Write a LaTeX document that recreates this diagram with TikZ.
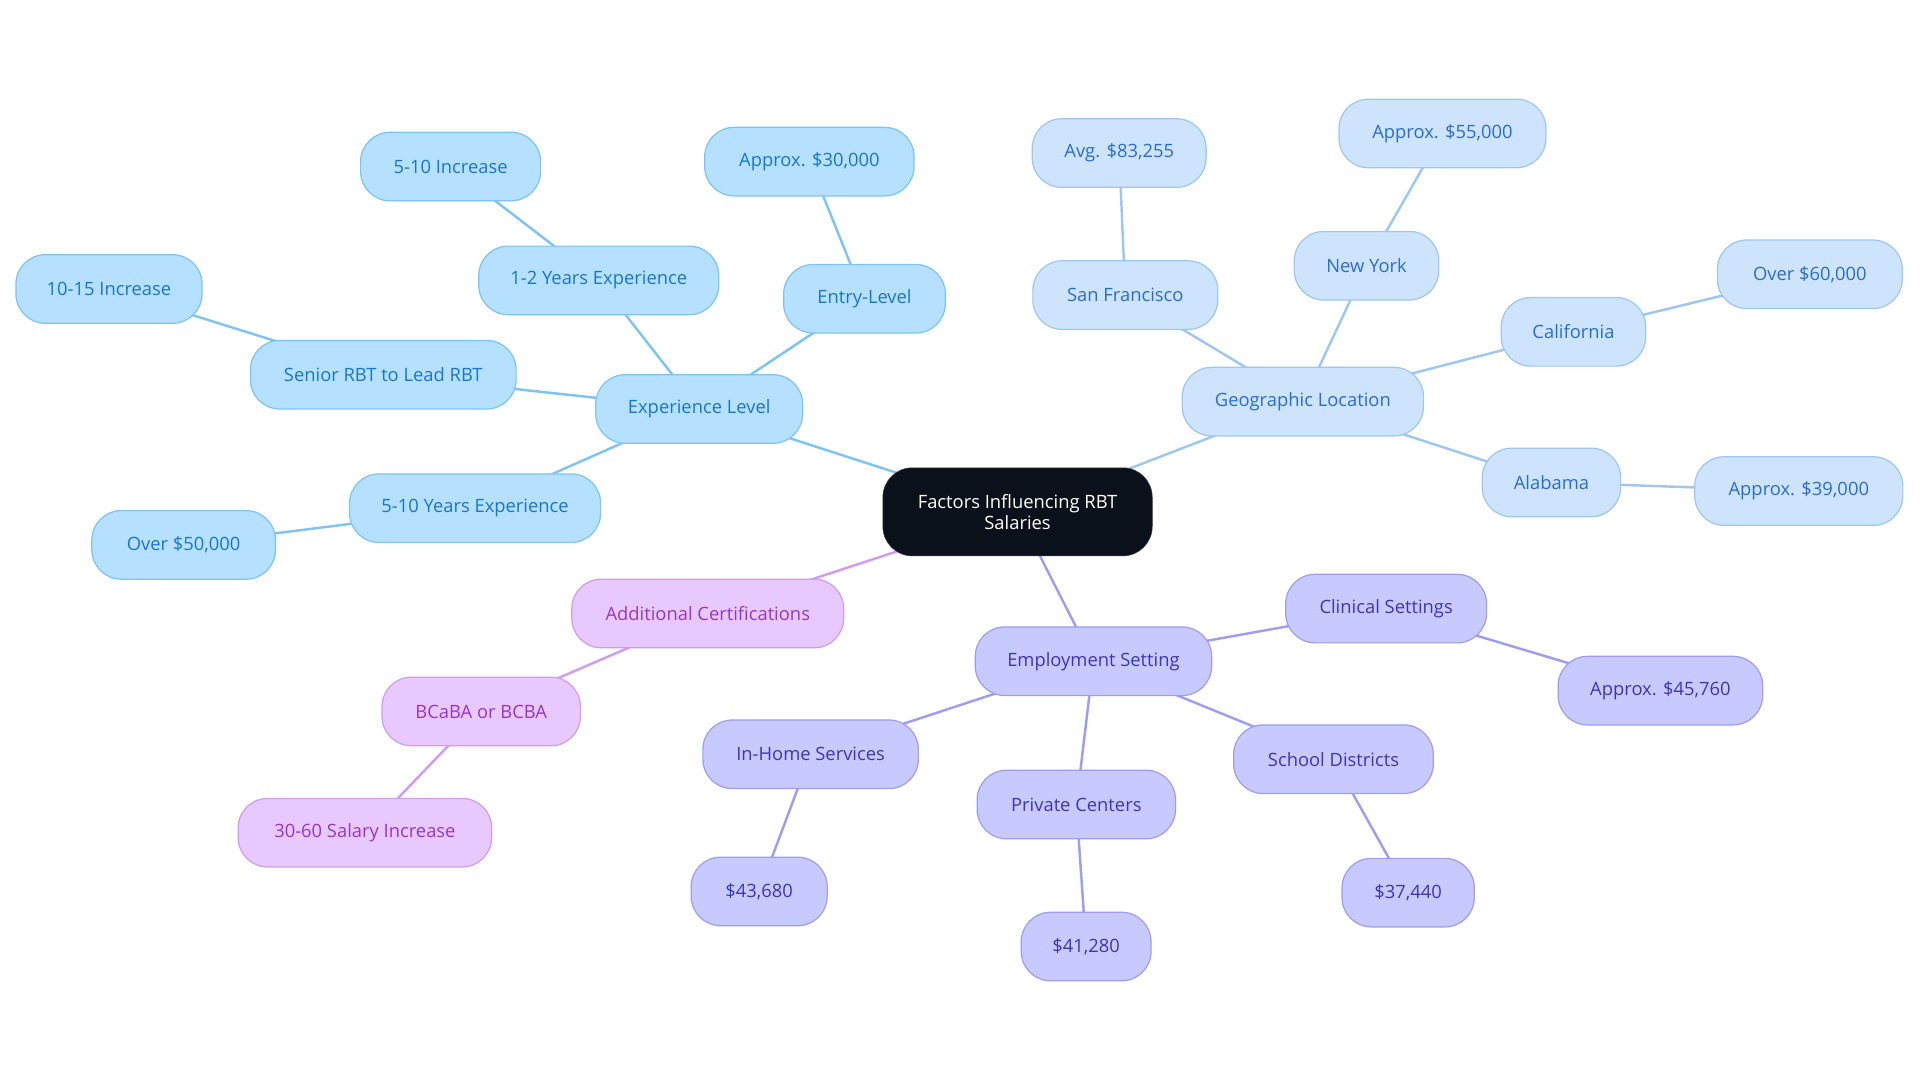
\documentclass[tikz,border=0pt]{standalone}
\usepackage{fontspec}
\setmainfont{Open Sans}
\usetikzlibrary{backgrounds}
\definecolor{expfill}{RGB}{181,224,255}
\definecolor{expline}{RGB}{125,196,245}
\definecolor{exptext}{RGB}{25,118,205}
\definecolor{geofill}{RGB}{205,228,252}
\definecolor{geoline}{RGB}{158,198,242}
\definecolor{geotext}{RGB}{42,108,210}
\definecolor{empfill}{RGB}{200,202,255}
\definecolor{empline}{RGB}{157,157,242}
\definecolor{emptext}{RGB}{58,54,185}
\definecolor{certfill}{RGB}{232,201,255}
\definecolor{certline}{RGB}{207,156,245}
\definecolor{certtext}{RGB}{150,52,208}
\definecolor{rootfill}{RGB}{11,17,27}
\tikzset{
  mbox/.style={rounded corners=24pt, minimum height=56pt, inner sep=0pt, line width=1pt, font=\fontsize{15}{18}\selectfont},
  expbox/.style={mbox, fill=expfill, draw=expline, text=exptext},
  geobox/.style={mbox, fill=geofill, draw=geoline, text=geotext},
  empbox/.style={mbox, fill=empfill, draw=empline, text=emptext},
  certbox/.style={mbox, fill=certfill, draw=certline, text=certtext},
  rootbox/.style={rounded corners=24pt, minimum height=72pt, minimum width=220pt, inner sep=0pt, fill=rootfill, draw=rootfill!80!white, text=white, align=center, font=\fontsize{15}{17.5}\selectfont},
  expedge/.style={draw=expline, line width=2pt},
  geoedge/.style={draw=geoline, line width=2pt},
  empedge/.style={draw=empline, line width=2pt},
  certedge/.style={draw=certline, line width=2pt},
}
\begin{document}
\begin{tikzpicture}[x=1pt,y=-1pt]
\useasboundingbox (0,0) rectangle (1568,884);
\begin{scope}[yshift=-1pt]
\node[rootbox] (root) at (831,417) {Factors Influencing RBT\\Salaries};
% Experience
\node[expbox, minimum width=169pt] (exp) at (571,333) {Experience Level};
\node[expbox, minimum width=132pt] (entry) at (706,243) {Entry-Level};
\node[expbox, minimum width=171pt] (e30) at (661,131) {Approx. \$30,000};
\node[expbox, minimum width=196pt] (y12) at (489,228) {1-2 Years Experience};
\node[expbox, minimum width=147pt] (i510) at (368,135) {5-10 Increase};
\node[expbox, minimum width=217pt] (senior) at (313,305) {Senior RBT to Lead RBT};
\node[expbox, minimum width=152pt] (i1015) at (89,235) {10-15 Increase};
\node[expbox, minimum width=205pt] (y510) at (388,414) {5-10 Years Experience};
\node[expbox, minimum width=150pt] (o50) at (150,444) {Over \$50,000};
% Geographic
\node[geobox, minimum width=197pt] (geo) at (1064,327) {Geographic Location};
\node[geobox, minimum width=151pt] (sf) at (919,240) {San Francisco};
\node[geobox, minimum width=142pt] (a83) at (914,124) {Avg. \$83,255};
\node[geobox, minimum width=118pt] (ny) at (1116,216) {New York};
\node[geobox, minimum width=169pt] (a55) at (1178,108) {Approx. \$55,000};
\node[geobox, minimum width=118pt] (ca) at (1285,270) {California};
\node[geobox, minimum width=151pt] (o60) at (1478,223) {Over \$60,000};
\node[geobox, minimum width=113pt] (al) at (1267,393) {Alabama};
\node[geobox, minimum width=170pt] (a39) at (1469,400) {Approx. \$39,000};
% Employment
\node[empbox, minimum width=193pt] (emp) at (893,539) {Employment Setting};
\node[empbox, minimum width=164pt] (clin) at (1132,496) {Clinical Settings};
\node[empbox, minimum width=167pt] (a45) at (1356,563) {Approx. \$45,760};
\node[empbox, minimum width=176pt] (home) at (662,615) {In-Home Services};
\node[empbox, minimum width=111pt] (d43) at (620,727) {\$43,680};
\node[empbox, minimum width=162pt] (priv) at (879,656) {Private Centers};
\node[empbox, minimum width=106pt] (d41) at (887,772) {\$41,280};
\node[empbox, minimum width=163pt] (school) at (1089,619) {School Districts};
\node[empbox, minimum width=108pt] (d37) at (1150,728) {\$37,440};
% Certifications
\node[certbox, minimum width=222pt] (cert) at (578,500) {Additional Certifications};
\node[certbox, minimum width=162pt] (bcba) at (393,580) {BCaBA or BCBA};
\node[certbox, minimum width=207pt] (sal) at (298,679) {30-60 Salary Increase};
\begin{scope}[on background layer]
\draw[expedge] (root.center) -- (exp.center);
\draw[expedge] (exp.center) -- (entry.center);
\draw[expedge] (entry.center) -- (e30.center);
\draw[expedge] (exp.center) -- (y12.center);
\draw[expedge] (y12.center) -- (i510.center);
\draw[expedge] (exp.center) -- (senior.center);
\draw[expedge] (senior.center) -- (i1015.center);
\draw[expedge] (exp.center) -- (y510.center);
\draw[expedge] (y510.center) -- (o50.center);
\draw[geoedge] (root.center) -- (geo.center);
\draw[geoedge] (geo.center) -- (sf.center);
\draw[geoedge] (sf.center) -- (a83.center);
\draw[geoedge] (geo.center) -- (ny.center);
\draw[geoedge] (ny.center) -- (a55.center);
\draw[geoedge] (geo.center) -- (ca.center);
\draw[geoedge] (ca.center) -- (o60.center);
\draw[geoedge] (geo.center) -- (al.center);
\draw[geoedge] (al.center) -- (a39.center);
\draw[empedge] (root.center) -- (emp.center);
\draw[empedge] (emp.center) -- (clin.center);
\draw[empedge] (clin.center) -- (a45.center);
\draw[empedge] (emp.center) -- (home.center);
\draw[empedge] (home.center) -- (d43.center);
\draw[empedge] (emp.center) -- (priv.center);
\draw[empedge] (priv.center) -- (d41.center);
\draw[empedge] (emp.center) -- (school.center);
\draw[empedge] (school.center) -- (d37.center);
\draw[certedge] (root.center) -- (cert.center);
\draw[certedge] (cert.center) -- (bcba.center);
\draw[certedge] (bcba.center) -- (sal.center);
\end{scope}
\end{scope}
\end{tikzpicture}
\end{document}
